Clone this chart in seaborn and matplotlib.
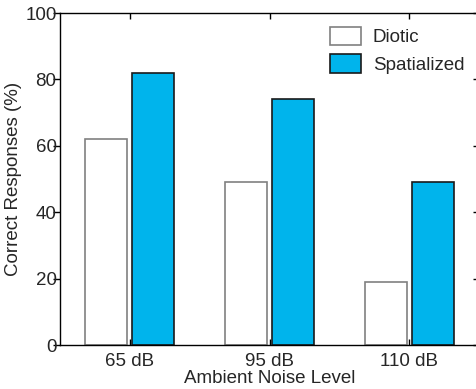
import matplotlib
matplotlib.use("Agg")
import matplotlib.pyplot as plt
import seaborn as sns
import pandas as pd
from matplotlib.patches import Patch

levels = ["65 dB", "95 dB", "110 dB"]
conditions = ["Diotic", "Spatialized"]
diotic = [62, 49, 19]
spatialized = [82, 74, 49]

df = pd.DataFrame({
    "level": levels * 2,
    "condition": [conditions[0]] * 3 + [conditions[1]] * 3,
    "value": diotic + spatialized,
})

sns.set_style("white")
plt.rcParams['font.family'] = ['Liberation Sans', 'DejaVu Sans']

FS = 13.5
fig = plt.figure(figsize=(4.77, 3.89), dpi=100)
ax = fig.add_axes([60/477, 44/389, 419/477, 332/389])

face = {"Diotic": "#ffffff", "Spatialized": "#00b4ec"}
edge = {"Diotic": "#808080", "Spatialized": "#1a1a1a"}

sns.barplot(data=df, x="level", y="value", hue="condition", order=levels,
            hue_order=conditions, palette=face, width=0.67, gap=0.1,
            ax=ax, legend=False, saturation=1)

for cont, cond in zip(ax.containers, conditions):
    for p in cont:
        p.set_edgecolor(edge[cond])
        p.set_linewidth(1.2)

ax.set_xlim(-0.5, 2.5)
ax.set_ylim(0, 100)
ax.set_yticks([0, 20, 40, 60, 80, 100])
for s in ax.spines.values():
    s.set_visible(True)
    s.set_color("black")
    s.set_linewidth(1.0)

ax.tick_params(axis='x', direction='in', top=True, bottom=True, length=4,
               width=1, labelsize=FS, pad=6, color='black')
ax.tick_params(axis='y', direction='out', left=True, right=False, length=5,
               width=1, labelsize=FS, pad=-2.5, color='black')
sec = ax.secondary_yaxis('right')
sec.set_yticks([0, 20, 40, 60, 80, 100])
sec.tick_params(direction='in', length=4, width=1, labelright=False, color='black')

ax.set_xlabel("Ambient Noise Level", fontsize=FS, labelpad=0)
ax.set_ylabel("Correct Responses (%)", fontsize=FS, labelpad=2)

handles = [Patch(facecolor=face[c], edgecolor=edge[c], linewidth=1.2) for c in conditions]
ax.legend(handles, conditions, loc="upper left", bbox_to_anchor=(270/419, 0.958),
          frameon=False, fontsize=FS, handlelength=1.65, handleheight=1.12,
          handletextpad=0.64, labelspacing=0.42, borderpad=0, borderaxespad=0)

fig.savefig("out.png", dpi=100)
